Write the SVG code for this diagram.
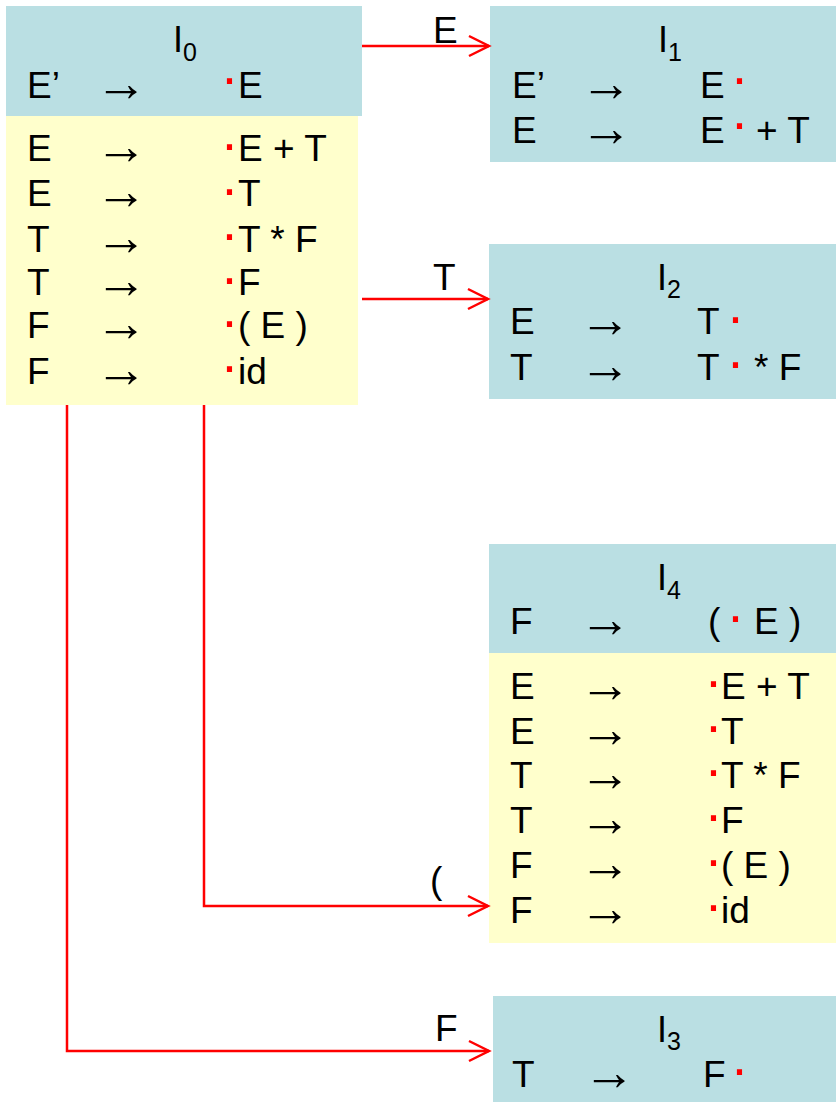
<svg xmlns="http://www.w3.org/2000/svg" width="836" height="1102" viewBox="0 0 836 1102">
<style>
.blue{fill:#BADFE3}
.yel{fill:#FFFFCC}
text{font-family:"Liberation Sans",Arial,sans-serif;fill:#000}
.t{font-size:37px}
.ar{font-size:52px}
.lab{font-size:36px}
.sub{font-size:25px}
.dot{font-size:54px;fill:#FF0000;text-anchor:middle}
.con{stroke:#FF0000;stroke-width:2.5;fill:none}
</style>
<defs>
<marker id="ah" markerUnits="userSpaceOnUse" viewBox="-22 -12 24 24" markerWidth="24" markerHeight="24" refX="0" refY="0" orient="auto" overflow="visible">
<path d="M-20,-10 L0,0 L-20,10" fill="none" stroke="#FF0000" stroke-width="2.5"/>
</marker>
</defs>
<g id="I0">
<rect class="blue" x="6" y="6" width="356" height="110"/>
<rect class="yel" x="6" y="116" width="352" height="289"/>
<text class="lab" x="173" y="52">I</text><text class="sub" x="183" y="61">0</text>
<text class="t" x="27" y="98">E’</text><text class="ar" x="95" y="101">→</text><text class="dot" x="229.5" y="96">·</text><text class="t" x="238" y="98">E</text>
<text class="t" x="27" y="161">E</text><text class="ar" x="95" y="164">→</text><text class="dot" x="229.5" y="162">·</text><text class="t" x="238" y="161">E + T</text>
<text class="t" x="27" y="206">E</text><text class="ar" x="95" y="209">→</text><text class="dot" x="229.5" y="207">·</text><text class="t" x="238" y="206">T</text>
<text class="t" x="27" y="252">T</text><text class="ar" x="95" y="255">→</text><text class="dot" x="229.5" y="252">·</text><text class="t" x="238" y="252">T * F</text>
<text class="t" x="27" y="295">T</text><text class="ar" x="95" y="298">→</text><text class="dot" x="229.5" y="296">·</text><text class="t" x="238" y="295">F</text>
<text class="t" x="27" y="338">F</text><text class="ar" x="95" y="341">→</text><text class="dot" x="229.5" y="339">·</text><text class="t" x="238" y="338">( E )</text>
<text class="t" x="27" y="384">F</text><text class="ar" x="95" y="387">→</text><text class="dot" x="229.5" y="384">·</text><text class="t" x="238" y="384">id</text>
</g>
<g id="I1">
<rect class="blue" x="490" y="6" width="346" height="156"/>
<text class="lab" x="658" y="52">I</text><text class="sub" x="668" y="61">1</text>
<text class="t" x="512" y="98">E’</text><text class="ar" x="580" y="101">→</text><text class="t" x="700" y="98">E</text><text class="dot" x="739.5" y="96">·</text>
<text class="t" x="512" y="143">E</text><text class="ar" x="580" y="146">→</text><text class="t" x="700" y="143">E</text><text class="dot" x="739.5" y="141">·</text><text class="t" x="756" y="143">+ T</text>
</g>
<g id="I2">
<rect class="blue" x="489" y="244" width="347" height="155"/>
<text class="lab" x="657" y="290">I</text><text class="sub" x="667" y="298">2</text>
<text class="t" x="510" y="334">E</text><text class="ar" x="579" y="337">→</text><text class="t" x="697" y="334">T</text><text class="dot" x="735.5" y="335">·</text>
<text class="t" x="510" y="380">T</text><text class="ar" x="579" y="383">→</text><text class="t" x="697" y="380">T</text><text class="dot" x="735.5" y="380">·</text><text class="t" x="754" y="380">* F</text>
</g>
<g id="I4">
<rect class="blue" x="489" y="544" width="347" height="109"/>
<rect class="yel" x="489" y="653" width="347" height="290"/>
<text class="lab" x="657" y="590">I</text><text class="sub" x="667" y="599">4</text>
<text class="t" x="510" y="634">F</text><text class="ar" x="579" y="637">→</text><text class="t" x="708" y="634">(</text><text class="dot" x="735.5" y="634">·</text><text class="t" x="754" y="634">E )</text>
<text class="t" x="510" y="699">E</text><text class="ar" x="579" y="702">→</text><text class="dot" x="713.5" y="699">·</text><text class="t" x="721" y="699">E + T</text>
<text class="t" x="510" y="744">E</text><text class="ar" x="579" y="747">→</text><text class="dot" x="713.5" y="744">·</text><text class="t" x="721" y="744">T</text>
<text class="t" x="510" y="788">T</text><text class="ar" x="579" y="791">→</text><text class="dot" x="713.5" y="788">·</text><text class="t" x="721" y="788">T * F</text>
<text class="t" x="510" y="833">T</text><text class="ar" x="579" y="836">→</text><text class="dot" x="713.5" y="833">·</text><text class="t" x="721" y="833">F</text>
<text class="t" x="510" y="878">F</text><text class="ar" x="579" y="881">→</text><text class="dot" x="713.5" y="878">·</text><text class="t" x="721" y="878">( E )</text>
<text class="t" x="510" y="923">F</text><text class="ar" x="579" y="926">→</text><text class="dot" x="713.5" y="923">·</text><text class="t" x="721" y="923">id</text>
</g>
<g id="I3">
<rect class="blue" x="493" y="996" width="343" height="106"/>
<text class="lab" x="657" y="1042">I</text><text class="sub" x="667" y="1050">3</text>
<text class="t" x="512" y="1087">T</text><text class="ar" x="583" y="1090">→</text><text class="t" x="703" y="1087">F</text><text class="dot" x="739.5" y="1087">·</text>
</g>
<g id="connectors">
<path class="con" d="M362,46 H489" marker-end="url(#ah)"/>
<path class="con" d="M362,299 H488" marker-end="url(#ah)"/>
<path class="con" d="M204,405 V906 H488" marker-end="url(#ah)"/>
<path class="con" d="M67,405 V1051 H489" marker-end="url(#ah)"/>
<text class="t" x="433" y="43">E</text>
<text class="t" x="433" y="290">T</text>
<text class="t" x="430" y="893">(</text>
<text class="t" x="435" y="1041">F</text>
</g>
</svg>
